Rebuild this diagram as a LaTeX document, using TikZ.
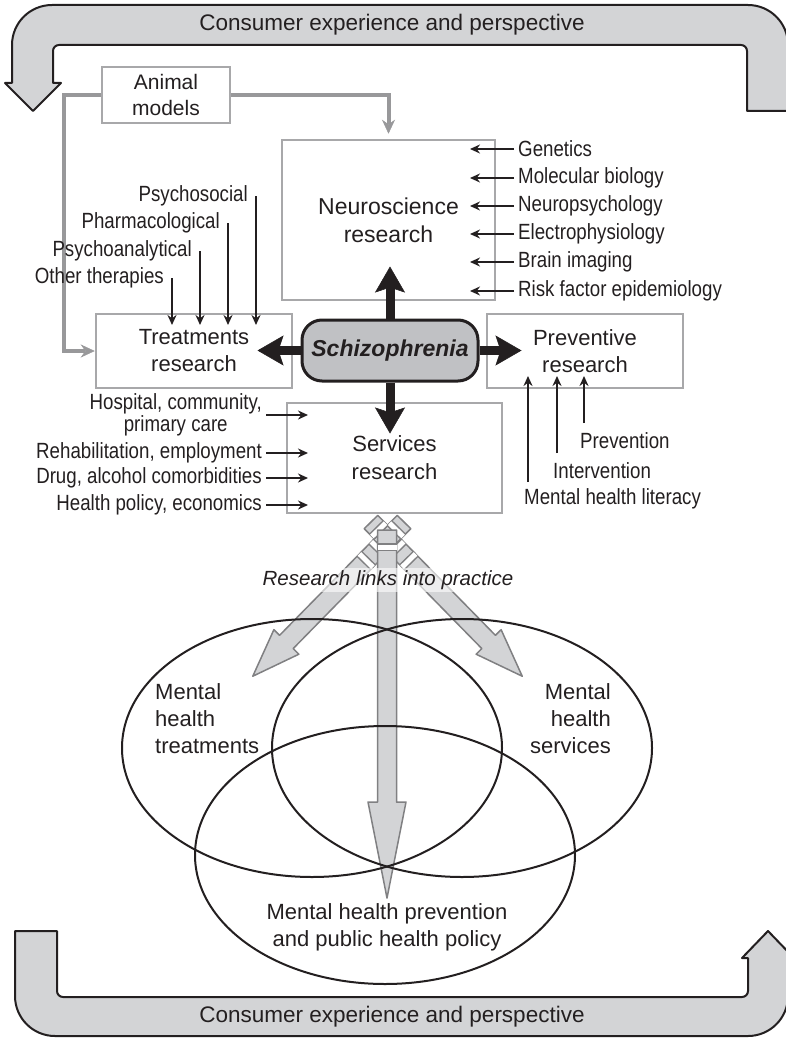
\documentclass[tikz,border=0pt]{standalone}
\usepackage{fontspec}
\setmainfont{Liberation Sans}
\newfontfamily\narrowfont{Liberation Sans}[FakeStretch=0.85]
\usepackage{tikz}
\usepackage{xcolor}
\usetikzlibrary{arrows.meta}
\usetikzlibrary{positioning}

\definecolor{bandgray}{RGB}{211,212,214}
\definecolor{boxgray}{RGB}{168,168,170}
\definecolor{linkgray}{RGB}{152,152,154}
\definecolor{fangray}{RGB}{128,128,130}
\definecolor{schizgray}{RGB}{192,193,196}
\definecolor{inkblack}{RGB}{35,31,32}

\tikzset{
  band/.style={draw=inkblack, fill=bandgray, line width=2pt, line join=round},
  bandtext/.style={font=\fontsize{22.5}{27}\selectfont, text=inkblack},
  resbox/.style={draw=boxgray, line width=2.5pt, align=center, text=inkblack, font=\fontsize{22}{27}\selectfont, inner sep=0pt},
  lbl/.style={font=\narrowfont\fontsize{22}{22}\selectfont, text=inkblack, inner xsep=4pt, inner ysep=1pt},
  feed/.style={draw=inkblack, line width=1.9pt, -{Stealth[length=10pt,width=9pt]}},
  bigarrow/.style={draw=inkblack, line width=9pt, -{Stealth[length=26pt,width=30pt,inset=5pt,line width=0.5pt]}},
  graylink/.style={draw=linkgray, line width=4pt, -{Stealth[length=14pt,width=13pt,line width=0.5pt]}},
  fan/.style={draw=fangray, fill=bandgray, line width=1.5pt, line join=round},
  gap/.style={draw=white, line width=5pt, preaction={draw=fangray, line width=8pt}},
  venn/.style={draw=inkblack, line width=2pt},
  venntext/.style={font=\fontsize{22}{27}\selectfont, text=inkblack, inner sep=4pt}
}

\begin{document}
\begin{tikzpicture}[x=1pt,y=-1pt]
\useasboundingbox (0,0) rectangle (785,1038);

% consumer bands
\filldraw[band] (747,111) -- (747,51) arc[start angle=0,end angle=-90,radius=6] -- (59,45) arc[start angle=270,end angle=180,radius=6] -- (53,83) -- (61,83) -- (33,111) -- (5,83) -- (12,83) -- (12,45) arc[start angle=180,end angle=270,radius=40] -- (748,5) arc[start angle=270,end angle=360,radius=40] -- (788,111) -- cycle;
\node[bandtext] (topband) at (392,25) {Consumer experience and perspective};
\filldraw[band] (15,931) -- (57,931) -- (57,991) arc[start angle=180,end angle=90,radius=6] -- (742,997) arc[start angle=90,end angle=0,radius=6] -- (748,958) -- (742,958) -- (768,931) -- (794,958) -- (788,958) -- (788,996) arc[start angle=0,end angle=90,radius=40] -- (55,1036) arc[start angle=90,end angle=180,radius=40] -- cycle;
\node[bandtext] (botband) at (392,1017) {Consumer experience and perspective};

% research boxes
\node[resbox, minimum width=128pt, minimum height=56pt, font=\fontsize{21}{26}\selectfont] (animal) at (166,95) {Animal\\models};
\node[resbox, minimum width=213pt, minimum height=160pt, font=\fontsize{23}{28}\selectfont] (neuro) at (388.5,220) {Neuroscience\\research};
\node[resbox, minimum width=196pt, minimum height=74pt] (treat) at (194,351) {Treatments\\research};
\node[resbox, minimum width=196pt, minimum height=74pt] (prev) at (585,351) {Preventive\\research};
\node[resbox, minimum width=215pt, minimum height=110pt, font=\fontsize{22}{28}\selectfont] (serv) at (394.5,458) {Services\\research};
\node[draw=inkblack, fill=schizgray, line width=3pt, rounded corners=20pt, minimum width=176pt, minimum height=61pt, text=inkblack, font=\bfseries\itshape\fontsize{23}{27}\selectfont] (schiz) at (390,350.5) {Schizophrenia};

\draw[bigarrow] (schiz.north) -- ++(0,-52);
\draw[bigarrow] (schiz.south) -- ++(0,51);
\draw[bigarrow] (schiz.west) -- ++(-43,0);
\draw[bigarrow] (schiz.east) -- ++(42,0);

\draw[graylink] (animal.west) -- ++(-37,0) |- (treat.west);
\draw[graylink] (animal.east) -| ([yshift=5pt]neuro.north);

% neuroscience inputs
\node[lbl, anchor=west] (gen) at (514,149) {Genetics};
\node[lbl, anchor=west] (molbio) at (514,178) {Molecular biology};
\node[lbl, anchor=west] (neuropsy) at (514,206) {Neuropsychology};
\node[lbl, anchor=west] (electro) at (514,234) {Electrophysiology};
\node[lbl, anchor=west] (brain) at (514,262) {Brain imaging};
\node[lbl, anchor=west] (risk) at (514,291) {Risk factor epidemiology};
\draw[feed] (gen.west) -- ++(-44,0);
\draw[feed] (molbio.west) -- ++(-44,0);
\draw[feed] (neuropsy.west) -- ++(-44,0);
\draw[feed] (electro.west) -- ++(-44,0);
\draw[feed] (brain.west) -- ++(-44,0);
\draw[feed] (risk.west) -- ++(-44,0);

% treatment inputs
\node[lbl, anchor=east] (psysoc) at (252,196) {Psychosocial};
\node[lbl, anchor=east] (pharma) at (224,223) {Pharmacological};
\node[lbl, anchor=east] (psyana) at (196,251) {Psychoanalytical};
\node[lbl, anchor=east] (other) at (168,278) {Other therapies};
\draw[feed] ([xshift=4pt]psysoc.east) -- ++(0,129);
\draw[feed] ([xshift=4pt]pharma.east) -- ++(0,102);
\draw[feed] ([xshift=4pt]psyana.east) -- ++(0,74);
\draw[feed] ([xshift=4pt]other.east) -- ++(0,47);

% services inputs
\node[lbl, anchor=east, align=center] (hosp) at (266,415) {Hospital, community,\\primary care};
\node[lbl, anchor=east] (rehab) at (266,453) {Rehabilitation, employment};
\node[lbl, anchor=east] (drug) at (266,478) {Drug, alcohol comorbidities};
\node[lbl, anchor=east] (hpol) at (266,505) {Health policy, economics};
\draw[feed] (hosp.east) -- ++(42,0);
\draw[feed] (rehab.east) -- ++(42,0);
\draw[feed] (drug.east) -- ++(42,0);
\draw[feed] (hpol.east) -- ++(42,0);

% preventive inputs
\node[lbl, anchor=west] (prevn) at (576,441) {Prevention};
\node[lbl, anchor=west] (interv) at (549,471) {Intervention};
\node[lbl, anchor=west] (literacy) at (520,499) {Mental health literacy};
\draw[feed] ([xshift=8pt,yshift=18pt]prevn.west) -- ++(0,-47);
\draw[feed] ([xshift=8pt,yshift=18pt]interv.west) -- ++(0,-77);
\draw[feed] ([xshift=8pt,yshift=17pt]literacy.west) -- ++(0,-106);

% research links into practice
\begin{scope}[shift={(371,522)}, rotate=-45.56]
\filldraw[fan] (0,-9.5) -- (168,-9.5) -- (168,-17.5) -- (216,0) -- (168,17.5) -- (168,9.5) -- (0,9.5) -- cycle;
\end{scope}
\begin{scope}[shift={(404,522)}, rotate=225.56]
\filldraw[fan] (0,-9.5) -- (168,-9.5) -- (168,-17.5) -- (216,0) -- (168,17.5) -- (168,9.5) -- (0,9.5) -- cycle;
\end{scope}
\begin{scope}[shift={(371,522)}, rotate=-45.56]
\draw[gap] (11,-9.5) -- (11,9.5);
\draw[gap] (37,-9.5) -- (37,9.5);
\draw[gap] (54,-9.5) -- (54,9.5);
\end{scope}
\begin{scope}[shift={(404,522)}, rotate=225.56]
\draw[gap] (11,-9.5) -- (11,9.5);
\draw[gap] (37,-9.5) -- (37,9.5);
\draw[gap] (54,-9.5) -- (54,9.5);
\end{scope}
\filldraw[fan] (377.5,530) -- (377.5,802) -- (368,802) -- (387,898) -- (406,802) -- (396.5,802) -- (396.5,530) -- cycle;
\draw[gap] (377.5,547) -- (396.5,547);
\node[font=\itshape\fontsize{20.5}{24}\selectfont, text=inkblack, fill=white, fill opacity=0.6, text opacity=1, inner sep=2pt] (links) at (388,580) {Research links into practice};

% practice sets
\draw[venn] (312,748) ellipse [x radius=190, y radius=129];
\draw[venn] (462,748) ellipse [x radius=190, y radius=129];
\draw[venn] (385,855) ellipse [x radius=190, y radius=129];
\node[venntext, align=left, anchor=west] (treatset) at (151,719) {Mental\\health\\treatments};
\node[venntext, align=right, anchor=east] (servset) at (615,719) {Mental\\health\\services};
\node[venntext, align=center] (prevset) at (387,927) {Mental health prevention\\and public health policy};
\end{tikzpicture}
\end{document}
